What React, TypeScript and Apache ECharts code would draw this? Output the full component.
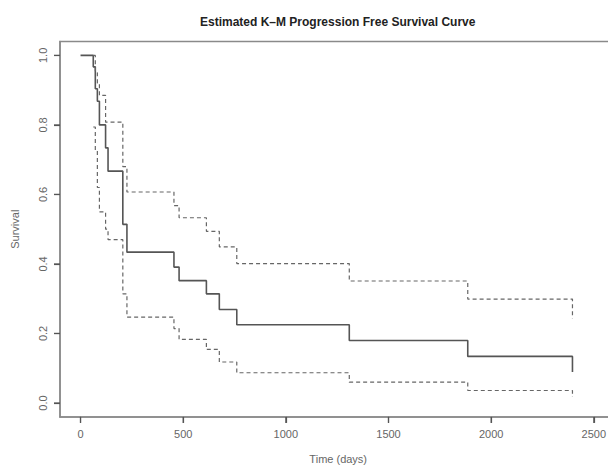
import React, { useEffect, useRef } from "react";
import * as echarts from "echarts";

// Kaplan–Meier estimate (days, survival)
const survTimes = [0, 62, 72, 82, 92, 122, 134, 206, 226, 455, 480, 613, 676, 761, 1309, 1886, 2396];
const survival = [1.0, 0.967, 0.904, 0.868, 0.8, 0.734, 0.667, 0.514, 0.434, 0.391, 0.352, 0.314, 0.269, 0.225, 0.18, 0.134, 0.089];

// Confidence band (starts at first event time)
const ciTimes = [62, 72, 82, 92, 122, 134, 206, 226, 455, 480, 613, 676, 761, 1309, 1886, 2396];
const upperCI = [1.0, 0.95, 0.92, 0.885, 0.808, 0.808, 0.68, 0.607, 0.568, 0.533, 0.494, 0.449, 0.401, 0.351, 0.299, 0.243];
const lowerCI = [0.794, 0.727, 0.62, 0.55, 0.5, 0.47, 0.314, 0.247, 0.214, 0.183, 0.154, 0.118, 0.087, 0.06, 0.036, 0.017];

const xTicks = [0, 500, 1000, 1500, 2000, 2500];
const yTicks = [0, 0.2, 0.4, 0.6, 0.8, 1.0];

const X_MIN = -100;
const X_MAX = 2610;
const Y_MIN = -0.04;
const Y_MAX = 1.04;

const titleText = "Estimated K\u2013M Progression Free Survival Curve";
const xName = "Time (days)";
const yName = "Survival";

const FONT = "Liberation Sans, Arial, Helvetica, sans-serif";
const TICK_LEN = 6;

export default function App() {
  const ref = useRef<HTMLDivElement>(null);
  useEffect(() => {
    const chart = echarts.init(ref.current!, null, { renderer: "svg" });
    const pairs = (t: number[], v: number[]) => t.map((x, i) => [x, v[i]]);
    chart.setOption({
      animation: false,
      backgroundColor: "#ffffff",
      title: {
        text: titleText,
        left: 195,
        top: 11,
        textStyle: { fontSize: 12, fontWeight: "bold", color: "#222", fontFamily: FONT },
      },
      grid: {
        left: 60,
        top: 41.5,
        width: 556.4,
        height: 375.4,
        containLabel: false,
        outerBoundsMode: "none",
        show: true,
        borderColor: "#8a8a8a",
        borderWidth: 1.5,
        backgroundColor: "transparent",
      },
      xAxis: {
        type: "value",
        min: X_MIN,
        max: X_MAX,
        axisLine: { show: true, onZero: false, lineStyle: { color: "#8a8a8a", width: 1.5 } },
        splitLine: { show: false },
        axisTick: {
          show: true,
          inside: false,
          customValues: xTicks,
          length: TICK_LEN,
          lineStyle: { color: "#555", width: 1.2 },
        },
        axisLabel: {
          customValues: xTicks,
          margin: 12,
          color: "#666",
          fontSize: 11,
          fontFamily: FONT,
          formatter: (v: number) => String(v),
        },
        name: xName,
        nameLocation: "middle",
        nameGap: 37,
        nameTextStyle: { color: "#666", fontSize: 11, fontFamily: FONT },
      },
      yAxis: {
        type: "value",
        min: Y_MIN,
        max: Y_MAX,
        axisLine: { show: true, onZero: false, lineStyle: { color: "#8a8a8a", width: 1.5 } },
        splitLine: { show: false },
        axisTick: {
          show: true,
          inside: false,
          customValues: yTicks,
          length: TICK_LEN,
          lineStyle: { color: "#555", width: 1.2 },
        },
        axisLabel: {
          customValues: yTicks,
          rotate: 90,
          margin: 12,
          color: "#666",
          fontSize: 11,
          fontFamily: FONT,
          formatter: (v: number) => v.toFixed(1),
        },
        name: yName,
        nameLocation: "middle",
        nameGap: 40,
        nameRotate: 90,
        nameTextStyle: { color: "#666", fontSize: 11, fontFamily: FONT },
      },
      series: [
        {
          type: "line",
          step: "end",
          data: pairs(survTimes, survival),
          showSymbol: false,
          lineStyle: { color: "#555", width: 1.6 },
        },
        {
          type: "line",
          step: "end",
          data: pairs(ciTimes, upperCI),
          showSymbol: false,
          lineStyle: { color: "#666", width: 1.2, type: [4, 3] },
        },
        {
          type: "line",
          step: "end",
          data: pairs(ciTimes, lowerCI),
          showSymbol: false,
          lineStyle: { color: "#666", width: 1.2, type: [4, 3] },
        },
        {
          // x-axis ticks (R style, outward)
          type: "custom",
          clip: false,
          silent: true,
          z: 10,
          data: xTicks.map((v) => [v, Y_MIN]),
          encode: { x: 0, y: 1 },
          renderItem: (_p: any, api: any) => {
            const c = api.coord([api.value(0), api.value(1)]);
            return {
              type: "line",
              shape: { x1: c[0], y1: c[1], x2: c[0], y2: c[1] + TICK_LEN },
              style: { stroke: "#555", lineWidth: 1.2 },
            };
          },
        },
        {
          // y-axis ticks (R style, outward)
          type: "custom",
          clip: false,
          silent: true,
          z: 10,
          data: yTicks.map((v) => [X_MIN, v]),
          encode: { x: 0, y: 1 },
          renderItem: (_p: any, api: any) => {
            const c = api.coord([api.value(0), api.value(1)]);
            return {
              type: "line",
              shape: { x1: c[0] - TICK_LEN, y1: c[1], x2: c[0], y2: c[1] },
              style: { stroke: "#555", lineWidth: 1.2 },
            };
          },
        },
      ],
    });
    return () => chart.dispose();
  }, []);
  return (
    <div
      ref={ref}
      style={{ position: "fixed", left: 0, top: 0, width: 608, height: 468, background: "#fff" }}
    />
  );
}
